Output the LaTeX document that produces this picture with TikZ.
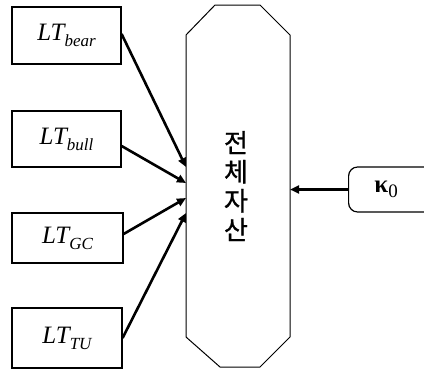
\documentclass[tikz,border=0pt]{standalone}
\usepackage{fontspec}
\setmainfont{Liberation Serif}
\newfontfamily\kr[FakeBold=1.2]{Noto Sans CJK KR}
\newcommand{\ltsub}[1]{\textit{LT\raisebox{-6pt}{\fontsize{17}{18}\selectfont #1}}}
\usetikzlibrary{arrows.meta}
\begin{document}
\begin{tikzpicture}[x=1pt,y=-1pt,
  ltbox/.style={draw,line width=1.2pt,minimum width=109pt,inner sep=0pt,font=\fontsize{25}{27}\selectfont},
  feed/.style={line width=2.6pt,-{Triangle[length=9pt,width=8pt]}},
  ]
\useasboundingbox (0,0) rectangle (424,370);
\clip (0,0) rectangle (424,370);
\node[ltbox,minimum height=57pt] (bear) at (66.5,35.5) {\ltsub{bear}};
\node[ltbox,minimum height=56pt] (bull) at (66.5,139) {\ltsub{bull}};
\node[ltbox,minimum width=111pt,minimum height=50pt] (gc) at (67.5,238) {\ltsub{GC}};
\node[ltbox,minimum width=110pt,minimum height=60pt] (tu) at (67,338) {\ltsub{TU}};
\draw[line width=1pt] (215,5) -- (260,5) -- (290,35) -- (290,337) -- (260,367) -- (220,367) -- (186,337) -- (186,35) -- cycle;
\node[inner sep=0pt,align=center,font=\kr\fontsize{26}{29}\selectfont] (total) at (236,186) {전\\체\\자\\산};
\coordinate (tr) at (290,189.5);
\node[draw,rounded corners=9pt,line width=1.2pt,minimum width=92pt,minimum height=45pt,
  inner sep=0pt,anchor=west,font=\bfseries\fontsize{25}{27}\selectfont] (kappa) at (348,189.5) {\hspace*{-17pt}κ\raisebox{-5pt}{\mdseries\fontsize{19}{20}\selectfont 0}};
\coordinate (t1) at (186,167);
\coordinate (t2) at (186,183);
\coordinate (t3) at (186,198);
\coordinate (t4) at (186,213);
\draw[feed] ([yshift=1.5pt]bear.east) -- (t1);
\draw[feed] ([yshift=-7pt]bull.east) -- (t2);
\draw[feed] ([yshift=4pt]gc.east) -- (t3);
\draw[feed] (tu.east) -- (t4);
\draw[feed] (kappa.west) -- (tr);
\end{tikzpicture}
\end{document}
